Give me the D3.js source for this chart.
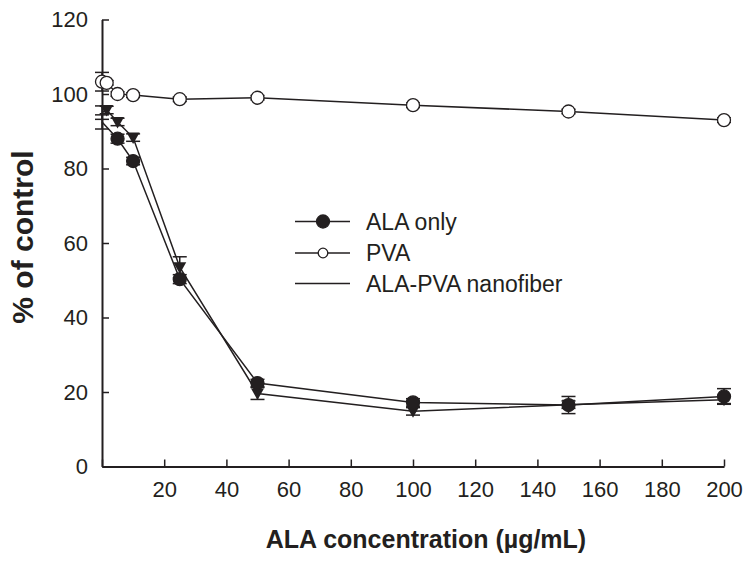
<!DOCTYPE html>
<html>
<head>
<meta charset="utf-8">
<script src="https://cdn.jsdelivr.net/npm/d3@7"></script>
<style>
  body { margin: 0; background: #fff; }
  text { font-family: "Liberation Sans", Arial, sans-serif; fill: #231f20; }
</style>
</head>
<body>
<div id="chart"></div>
<script>
'use strict';

// values
var concPVA    = [0, 1.5, 5, 10, 25, 50, 100, 150, 200];
var pvaValues  = [103.3, 103, 100, 99.7, 98.6, 99, 97, 95.3, 93];
var pvaErrors  = [2.5, 0.6, 0.6, 0.6, 0.6, 0.6, 0.6, 0.6, 0.6];

var concALA    = [0, 5, 10, 25, 50, 100, 150, 200];
var alaValues  = [92.5, 88, 82, 50.3, 22.4, 17.2, 16.5, 18.8];
var alaErrors  = [1.9, 1.2, 1, 1.2, 1, 1, 2.3, 2.1];

var concFiber   = [0, 1.5, 5, 10, 25, 50, 100, 150, 200];
var fiberValues = [95, 95.7, 92.5, 88.3, 53.5, 19.6, 14.8, 16.6, 17.9];
var fiberErrors = [1.8, 1, 1, 1, 2.8, 1.6, 1, 1, 1];

var xTicks = [0, 20, 40, 60, 80, 100, 120, 140, 160, 180, 200];
var yTicks = [0, 20, 40, 60, 80, 100, 120];
var legendNames = ['ALA only', 'PVA', 'ALA-PVA nanofiber'];

var chart = {};
chart.w = 753;
chart.h = 563;
chart.left = 102;
chart.right = 724;
chart.top = 19.5;
chart.bottom = 466.5;
chart.ink = '#231f20';

chart.xScale = d3.scaleLinear().domain([0, 200]).range([chart.left, chart.right]);
chart.yScale = d3.scaleLinear().domain([0, 120]).range([chart.bottom, chart.top]);

chart.zip = function (xs, ys, es) {
    return xs.map(function (x, i) { return {x: x, y: ys[i], e: es[i]}; });
};

chart.appendAxes = function (svg) {
    var xAxis = d3.axisBottom(chart.xScale).tickValues(xTicks)
        .tickSizeInner(-7).tickSizeOuter(0).tickPadding(15)
        .tickFormat(function (d) { return d === 0 ? '' : d; });
    var yAxis = d3.axisLeft(chart.yScale).tickValues(yTicks)
        .tickSizeInner(-7).tickSizeOuter(0).tickPadding(14);

    var gx = svg.append('g')
        .attr('transform', 'translate(0,' + chart.bottom + ')')
        .call(xAxis);
    var gy = svg.append('g')
        .attr('transform', 'translate(' + chart.left + ',0)')
        .call(yAxis);

    [gx, gy].forEach(function (g) {
        g.select('.domain').attr('stroke', chart.ink).attr('stroke-width', 2);
        g.selectAll('.tick line').attr('stroke', chart.ink).attr('stroke-width', 1.5);
        g.selectAll('.tick text').style('font-size', '22px').attr('fill', chart.ink);
    });

    svg.append('text')
        .attr('x', 426).attr('y', 548)
        .attr('text-anchor', 'middle')
        .style('font-size', '25px').style('font-weight', 'bold')
        .text('ALA concentration (\u00b5g/mL)');

    svg.append('text')
        .attr('transform', 'translate(33,237) rotate(-90)')
        .attr('text-anchor', 'middle')
        .style('font-size', '30px').style('font-weight', 'bold')
        .text('% of control');
};

chart.appendSeries = function (svg, data, marker, markAtZero) {
    var line = d3.line()
        .x(function (d) { return chart.xScale(d.x); })
        .y(function (d) { return chart.yScale(d.y); });

    var g = svg.append('g');

    // error bars
    var eb = g.selectAll('.err').data(data).enter().append('g')
        .attr('stroke', chart.ink).attr('stroke-width', 1.5);
    eb.append('line')
        .attr('x1', function (d) { return chart.xScale(d.x); })
        .attr('x2', function (d) { return chart.xScale(d.x); })
        .attr('y1', function (d) { return chart.yScale(d.y + d.e); })
        .attr('y2', function (d) { return chart.yScale(d.y - d.e); });
    [1, -1].forEach(function (s) {
        eb.append('line')
            .attr('x1', function (d) { return chart.xScale(d.x) - 7; })
            .attr('x2', function (d) { return chart.xScale(d.x) + 7; })
            .attr('y1', function (d) { return chart.yScale(d.y + s * d.e); })
            .attr('y2', function (d) { return chart.yScale(d.y + s * d.e); });
    });

    g.append('path')
        .attr('d', line(data))
        .attr('fill', 'none')
        .attr('stroke', chart.ink)
        .attr('stroke-width', 1.5);

    // the control points at 0 show only as the start of the line
    var pts = data.filter(function (d) { return markAtZero || d.x > 0; });
    chart.drawMarkers(g, pts.map(function (d) {
        return [chart.xScale(d.x), chart.yScale(d.y)];
    }), marker);
};

chart.drawMarkers = function (g, pos, marker, r) {
    r = r || 6.5;
    if (marker === 'tri') {
        g.selectAll('.tri').data(pos).enter().append('path')
            .attr('d', function (p) {
                return 'M' + (p[0] - 6.5) + ',' + (p[1] - 5) + 'L' + (p[0] + 6.5) + ',' + (p[1] - 5) +
                       'L' + p[0] + ',' + (p[1] + 6.5) + 'Z';
            })
            .attr('fill', chart.ink);
    } else if (marker) {
        g.selectAll('.dot').data(pos).enter().append('circle')
            .attr('cx', function (p) { return p[0]; })
            .attr('cy', function (p) { return p[1]; })
            .attr('r', r)
            .attr('fill', marker === 'open' ? '#fff' : chart.ink)
            .attr('stroke', chart.ink)
            .attr('stroke-width', 1.3);
    }
};

chart.appendLegend = function (svg) {
    var rows = [
        {name: legendNames[0], marker: 'filled', r: 6.5},
        {name: legendNames[1], marker: 'open', r: 4.8},
        {name: legendNames[2], marker: null, r: 0}
    ];
    var ys = [221.5, 253, 283.5];
    rows.forEach(function (d, i) {
        var g = svg.append('g');
        g.append('line')
            .attr('x1', 295).attr('x2', 350)
            .attr('y1', ys[i]).attr('y2', ys[i])
            .attr('stroke', chart.ink).attr('stroke-width', 1.5);
        chart.drawMarkers(g, [[323, ys[i]]], d.marker, d.r);
        g.append('text')
            .attr('x', 366).attr('y', ys[i] + 8)
            .style('font-size', '23px')
            .text(d.name);
    });
};

var svg = d3.select('#chart').append('svg')
    .attr('width', chart.w)
    .attr('height', chart.h);

chart.appendAxes(svg);
chart.appendSeries(svg, chart.zip(concPVA, pvaValues, pvaErrors), 'open', true);
chart.appendSeries(svg, chart.zip(concFiber, fiberValues, fiberErrors), 'tri', false);
chart.appendSeries(svg, chart.zip(concALA, alaValues, alaErrors), 'filled', false);
chart.appendLegend(svg);
</script>
</body>
</html>
